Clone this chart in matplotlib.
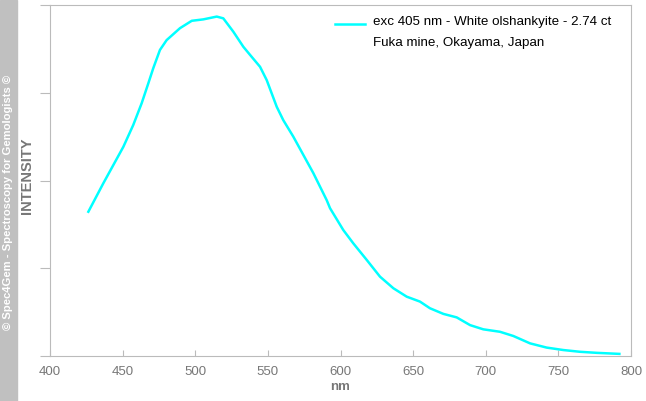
import matplotlib
matplotlib.use('Agg')
import matplotlib.pyplot as plt
from matplotlib.patches import Rectangle

# data (nm, relative intensity)
wavelength = [426.4, 436.7, 443.6, 450.5, 457.3, 463.1, 467.7, 471.1, 475.7, 480.3,
              489.5, 497.6, 505.5, 514.8, 519.3, 526.2, 533.1, 537.7, 544.6, 549.2,
              556.1, 560.6, 567.5, 581.3, 590.5, 592.8, 601.9, 608.8, 618.0, 627.2,
              636.4, 645.6, 654.7, 661.6, 670.8, 680.0, 689.2, 698.3, 709.8, 719.0,
              730.5, 741.9, 753.4, 764.9, 776.4, 792.0]
intensity = [0.411, 0.492, 0.544, 0.596, 0.658, 0.720, 0.777, 0.820, 0.872, 0.900,
             0.934, 0.955, 0.959, 0.967, 0.962, 0.924, 0.881, 0.858, 0.824, 0.786,
             0.710, 0.672, 0.625, 0.521, 0.444, 0.421, 0.359, 0.321, 0.274, 0.226,
             0.193, 0.169, 0.155, 0.136, 0.120, 0.110, 0.088, 0.076, 0.069, 0.057,
             0.036, 0.024, 0.017, 0.012, 0.009, 0.006]
xticks = [400, 450, 500, 550, 600, 650, 700, 750, 800]
yticks = [0, 0.25, 0.5, 0.75, 1.0]
legend_lines = ['exc 405 nm - White olshankyite - 2.74 ct', 'Fuka mine, Okayama, Japan']

plt.rcParams['font.family'] = ['Liberation Sans', 'DejaVu Sans']

fig = plt.figure(figsize=(6.46, 4.01), dpi=100)
ax = fig.add_axes([50/646, 45/401, 581/646, 351/401])

# grey watermark band on the left
fig.patches.append(Rectangle((0, 0), 17/646, 1, transform=fig.transFigure,
                             color='#c0c0c0', zorder=0))
fig.text(8.5/646, 0.494, '© Spec4Gem - Spectroscopy for Gemologists ©', rotation=90,
         color='white', fontsize=8.1, fontweight='bold', ha='center', va='center')

ax.plot(wavelength, intensity, color='#00ffff', linewidth=1.8)

ax.set_xlim(400, 800)
ax.set_ylim(0, 1)
ax.set_xticks(xticks)
ax.set_yticks(yticks)
ax.set_yticklabels([])
for s in ax.spines.values():
    s.set_color('#bbbbbb')
ax.tick_params(axis='x', direction='in', length=4, color='#bbbbbb',
               labelcolor='#777777', labelsize=9.5, pad=7)
ax.tick_params(axis='y', direction='out', length=7, color='#bbbbbb')

ax.set_xlabel('nm', color='#777777', fontsize=9.5, fontweight='bold', labelpad=2)
ax.set_ylabel('INTENSITY', color='#777777', fontsize=10.5, fontweight='bold')
ax.yaxis.set_label_coords(-0.028, 0.513)

# legend drawn by hand so the line sits on the first text row
ax.plot([0.4905, 0.542], [0.946, 0.946], color='#00ffff', linewidth=1.8,
        transform=ax.transAxes)
ax.text(0.556, 0.952, legend_lines[0], transform=ax.transAxes, fontsize=9.6,
        va='center', ha='left', color='black')
ax.text(0.556, 0.892, legend_lines[1], transform=ax.transAxes, fontsize=9.6,
        va='center', ha='left', color='black')

fig.savefig('out.png', dpi=100)
